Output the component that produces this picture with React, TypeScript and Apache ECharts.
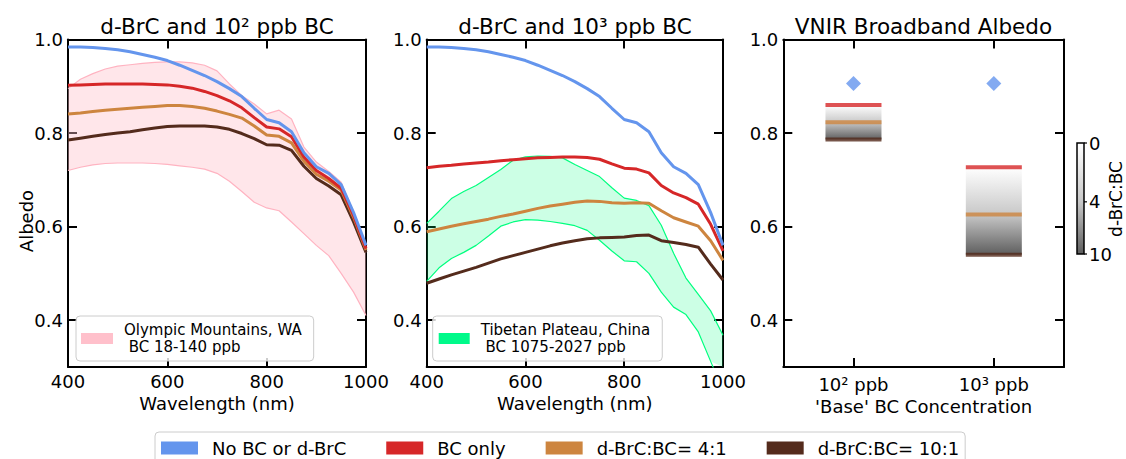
import React, { useEffect, useRef } from 'react';
import * as echarts from 'echarts';

// ---------------- data ----------------
const wavelengths = [400, 425, 450, 475, 500, 525, 550, 575, 600, 625, 650, 675, 700, 725, 750, 775, 800, 825, 850, 875, 900, 925, 950, 975, 1000];

// no BC / no d-BrC (same in both spectral panels)
const noBC = [0.984, 0.984, 0.983, 0.981, 0.978, 0.974, 0.968, 0.962, 0.955, 0.945, 0.934, 0.923, 0.910, 0.895, 0.878, 0.853, 0.829, 0.822, 0.803, 0.758, 0.728, 0.714, 0.690, 0.630, 0.560];

// 10^2 ppb BC panel
const bcOnly100 = [0.902, 0.903, 0.904, 0.905, 0.905, 0.905, 0.905, 0.904, 0.903, 0.900, 0.896, 0.889, 0.880, 0.869, 0.854, 0.833, 0.813, 0.809, 0.792, 0.749, 0.720, 0.703, 0.682, 0.624, 0.553];
const brc4Bc100 = [0.841, 0.843, 0.846, 0.849, 0.851, 0.853, 0.855, 0.857, 0.859, 0.859, 0.857, 0.853, 0.847, 0.840, 0.832, 0.815, 0.796, 0.793, 0.779, 0.740, 0.712, 0.697, 0.678, 0.620, 0.550];
const brc10Bc100 = [0.785, 0.789, 0.793, 0.797, 0.800, 0.803, 0.807, 0.811, 0.814, 0.815, 0.815, 0.815, 0.813, 0.808, 0.799, 0.788, 0.775, 0.774, 0.763, 0.729, 0.703, 0.687, 0.668, 0.610, 0.545];
const olympicLower = [0.720, 0.727, 0.732, 0.735, 0.736, 0.736, 0.736, 0.735, 0.733, 0.730, 0.727, 0.723, 0.714, 0.697, 0.675, 0.652, 0.640, 0.634, 0.610, 0.585, 0.560, 0.538, 0.500, 0.460, 0.410];
const olympicUpper = [0.895, 0.915, 0.927, 0.937, 0.943, 0.946, 0.949, 0.951, 0.952, 0.952, 0.950, 0.945, 0.933, 0.905, 0.880, 0.862, 0.841, 0.849, 0.830, 0.770, 0.738, 0.718, 0.695, 0.630, 0.545];

// 10^3 ppb BC panel
const bcOnly1000 = [0.726, 0.729, 0.731, 0.734, 0.736, 0.738, 0.741, 0.743, 0.745, 0.747, 0.748, 0.749, 0.749, 0.748, 0.744, 0.734, 0.725, 0.723, 0.715, 0.688, 0.672, 0.662, 0.648, 0.605, 0.548];
const brc4Bc1000 = [0.589, 0.595, 0.601, 0.606, 0.611, 0.616, 0.622, 0.627, 0.633, 0.639, 0.644, 0.648, 0.652, 0.655, 0.654, 0.651, 0.650, 0.651, 0.650, 0.634, 0.619, 0.610, 0.601, 0.570, 0.528];
const brc10Bc1000 = [0.479, 0.488, 0.497, 0.505, 0.513, 0.522, 0.531, 0.538, 0.545, 0.552, 0.559, 0.565, 0.570, 0.574, 0.576, 0.577, 0.578, 0.581, 0.582, 0.570, 0.566, 0.562, 0.556, 0.520, 0.486];
const tibetLower = [0.483, 0.512, 0.532, 0.545, 0.560, 0.580, 0.601, 0.610, 0.615, 0.614, 0.611, 0.607, 0.602, 0.592, 0.571, 0.548, 0.527, 0.525, 0.500, 0.460, 0.428, 0.412, 0.375, 0.312, 0.250];
const tibetUpper = [0.607, 0.633, 0.660, 0.675, 0.688, 0.705, 0.722, 0.742, 0.749, 0.751, 0.750, 0.747, 0.733, 0.720, 0.707, 0.683, 0.661, 0.656, 0.645, 0.603, 0.543, 0.490, 0.455, 0.420, 0.368];

// broadband panel
const baseBcCategories = ['10² ppb', '10³ ppb'];
const broadNoBC = [0.906, 0.906];
const broadBcOnly = [0.860, 0.727];
const broadBrc4 = [0.823, 0.626];
const broadBrc10 = [0.786, 0.540];

// ticks
const yTickValues = [0.4, 0.6, 0.8, 1.0];
const colorbarTickLabels = ['0', '4', '10'];
const colorbarTickFractions = [0, 0.53, 1];

const seriesNames = ['No BC or d-BrC', 'BC only', 'd-BrC:BC= 4:1', 'd-BrC:BC= 10:1'];
const olympicName = 'Olympic Mountains, WA\n BC 18-140 ppb';
const tibetName = 'Tibetan Plateau, China\n BC 1075-2027 ppb';

// ---------------- styles ----------------
const FONT = 'DejaVu Sans';
const C_BLUE = '#6495ED';
const C_RED = '#d62728';
const C_ORANGE = '#CD853F';
const C_BROWN = '#542b1c';
const C_PINK = '#ffc0cb';
const C_PINK_EDGE = '#ffb3c1';
const C_GREEN = '#00ff7f';
const GREY_TOP = '#ffffff';
const GREY_MID = '#c8c8c8';
const GREY_BOTTOM = '#5e5e5e';

const pairs = (ys: number[]) => wavelengths.map((w, i) => [w, ys[i]]);

export default function App() {
  const ref = useRef<HTMLDivElement>(null);

  useEffect(() => {
    if (!ref.current) return;
    const chart = echarts.init(ref.current, undefined, { renderer: 'svg' });

    const grids = [
      { left: 68, top: 39.5, width: 298, height: 327.5 },
      { left: 426.7, top: 39.5, width: 296.3, height: 327.5 },
      { left: 783.3, top: 39.5, width: 280.7, height: 327.5 },
    ];

    const axisLine = { show: true, onZero: false, lineStyle: { color: '#000', width: 2 } };
    const tick = { show: true, inside: true, length: 9, lineStyle: { color: '#000', width: 2 } };
    const label = { color: '#000', fontSize: 18, fontFamily: FONT, margin: 5 };
    const nameStyle = { color: '#000', fontSize: 18, fontFamily: FONT };

    const wlAxes = (g: number) => [
      {
        type: 'value', gridIndex: g, min: 400, max: 1000, interval: 200,
        axisLine, axisTick: tick, axisLabel: { ...label, formatter: (v: number) => String(v) }, splitLine: { show: false },
        name: 'Wavelength (nm)', nameLocation: 'middle', nameGap: 24, nameTextStyle: nameStyle,
      },
      {
        type: 'value', gridIndex: g, position: 'top', min: 400, max: 1000, interval: 200,
        axisLine, axisTick: tick, axisLabel: { show: false }, splitLine: { show: false },
      },
    ];
    const albedoAxes = (g: number) => [
      {
        type: 'value', gridIndex: g, min: 0.3, max: 1.0,
        axisLine, axisTick: { ...tick, customValues: yTickValues },
        axisLabel: { ...label, customValues: yTickValues, formatter: (v: number) => v.toFixed(1) },
        splitLine: { show: false },
      },
      {
        type: 'value', gridIndex: g, position: 'right', min: 0.3, max: 1.0,
        axisLine, axisTick: { ...tick, customValues: yTickValues },
        axisLabel: { show: false }, splitLine: { show: false },
      },
    ];

    const xAxis: any[] = [
      ...wlAxes(0),
      ...wlAxes(1),
      {
        type: 'category', gridIndex: 2, data: baseBcCategories,
        axisLine, axisTick: { ...tick, alignWithLabel: true }, axisLabel: { ...label, margin: 8 },
        splitLine: { show: false },
        name: "'Base' BC Concentration", nameLocation: 'middle', nameGap: 27, nameTextStyle: nameStyle,
      },
      {
        type: 'category', gridIndex: 2, position: 'top', data: baseBcCategories,
        axisLine, axisTick: { ...tick, alignWithLabel: true }, axisLabel: { show: false }, splitLine: { show: false },
      },
    ];
    const yAxis: any[] = [...albedoAxes(0), ...albedoAxes(1), ...albedoAxes(2)];

    const line = (name: string, ys: number[], color: string, ax: number, width = 3, z = 3) => ({
      type: 'line', name, data: pairs(ys), xAxisIndex: ax, yAxisIndex: ax,
      symbol: 'none', silent: true, z,
      lineStyle: { color, width }, itemStyle: { color },
    });

    const bandFill = (name: string, lower: number[], upper: number[], fill: string, legendColor: string, ax: number) => ({
      type: 'custom', name, xAxisIndex: ax, yAxisIndex: ax, silent: true, z: 1,
      itemStyle: { color: legendColor },
      data: wavelengths.map((w, i) => [w, lower[i], upper[i]]),
      encode: { x: 0, y: [1, 2] },
      renderItem: (params: any, api: any) => {
        if (params.dataIndex !== 0) return null;
        const cs = params.coordSys;
        const top = cs.y, bottom = cs.y + cs.height;
        const clamp = (p: number[]) => [p[0], Math.min(Math.max(p[1], top), bottom)];
        const up = wavelengths.map((w, i) => clamp(api.coord([w, upper[i]])));
        const lo = wavelengths.map((w, i) => clamp(api.coord([w, lower[i]]))).reverse();
        return { type: 'polygon', shape: { points: up.concat(lo) }, style: { fill, stroke: 'none' } };
      },
    });

    const boxGradient = (i: number) => {
      const f = (broadBcOnly[i] - broadBrc4[i]) / (broadBcOnly[i] - broadBrc10[i]);
      return new echarts.graphic.LinearGradient(0, 0, 0, 1, [
        { offset: 0, color: GREY_TOP },
        { offset: f, color: GREY_MID },
        { offset: 1, color: GREY_BOTTOM },
      ]);
    };

    const hLine = (name: string, ys: number[], color: string, z: number) => ({
      type: 'scatter', name, data: ys, xAxisIndex: 4, yAxisIndex: 4,
      symbol: 'rect', symbolSize: [56, 4], silent: true, z,
      itemStyle: { color },
    });

    const series: any[] = [
      bandFill(olympicName, olympicLower, olympicUpper, 'rgba(255,192,203,0.4)', C_PINK, 0),
      line('olympic_lower', olympicLower, C_PINK_EDGE, 0, 1.2, 2),
      line('olympic_upper', olympicUpper, C_PINK_EDGE, 0, 1.2, 2),
      line(seriesNames[3], brc10Bc100, C_BROWN, 0),
      line(seriesNames[2], brc4Bc100, C_ORANGE, 0),
      line(seriesNames[1], bcOnly100, C_RED, 0),
      line(seriesNames[0], noBC, C_BLUE, 0),

      bandFill(tibetName, tibetLower, tibetUpper, 'rgba(0,255,127,0.2)', '#00fa8a', 2),
      line('tibet_lower', tibetLower, C_GREEN, 2, 1.2, 2),
      line('tibet_upper', tibetUpper, C_GREEN, 2, 1.2, 2),
      line(seriesNames[3], brc10Bc1000, C_BROWN, 2),
      line(seriesNames[2], brc4Bc1000, C_ORANGE, 2),
      line(seriesNames[1], bcOnly1000, C_RED, 2),
      line(seriesNames[0], noBC, C_BLUE, 2),

      {
        type: 'bar', name: 'box_base', data: broadBrc10, xAxisIndex: 4, yAxisIndex: 4,
        stack: 'box', barWidth: 56, silent: true, itemStyle: { color: 'rgba(0,0,0,0)' }, z: 1,
      },
      {
        type: 'bar', name: 'box_range', xAxisIndex: 4, yAxisIndex: 4, stack: 'box', barWidth: 56, silent: true, z: 1,
        data: broadBcOnly.map((v, i) => ({ value: v - broadBrc10[i], itemStyle: { color: boxGradient(i) } })),
      },
      hLine(seriesNames[1], broadBcOnly, C_RED, 3),
      hLine(seriesNames[2], broadBrc4, C_ORANGE, 3),
      hLine(seriesNames[3], broadBrc10, C_BROWN, 3),
      {
        type: 'scatter', name: seriesNames[0], data: broadNoBC, xAxisIndex: 4, yAxisIndex: 4,
        symbol: 'diamond', symbolSize: [15, 15], silent: true, z: 3, itemStyle: { color: C_BLUE },
      },
    ];

    const legendBox = {
      borderColor: '#cccccc', borderWidth: 1, borderRadius: 4, backgroundColor: 'rgba(255,255,255,0.8)',
      selectedMode: false, orient: 'horizontal',
    };

    const legend: any[] = [
      {
        ...legendBox, left: 155, top: 432, padding: [7, 6, 7, 6], itemWidth: 37, itemHeight: 13, itemGap: 40,
        textStyle: { fontFamily: FONT, fontSize: 18, color: '#000', padding: [0, 0, 0, 9] },
        data: seriesNames.map((n, i) => ({ name: n, icon: 'rect', itemStyle: { color: [C_BLUE, C_RED, C_ORANGE, C_BROWN][i] } })),
      },
      {
        ...legendBox, left: 76, top: 316, padding: [6, 12, 6, 5], itemWidth: 32, itemHeight: 11,
        textStyle: { fontFamily: FONT, fontSize: 15, lineHeight: 16.5, color: '#000', padding: [0, 0, 0, 6] },
        data: [{ name: olympicName, icon: 'rect', itemStyle: { color: C_PINK } }],
      },
      {
        ...legendBox, left: 432.7, top: 316, padding: [6, 12, 6, 6], itemWidth: 31, itemHeight: 11,
        textStyle: { fontFamily: FONT, fontSize: 15, lineHeight: 16.5, color: '#000', padding: [0, 0, 0, 6] },
        data: [{ name: tibetName, icon: 'rect', itemStyle: { color: '#00fa8a' } }],
      },
    ];

    // colorbar geometry
    const cbX = 1077, cbY = 143, cbW = 7, cbH = 111;
    const titleStyle = (text: string) => ({ text, fontSize: 21.5, fontFamily: FONT, fill: '#000', align: 'center', verticalAlign: 'middle' });

    const graphic: any[] = [
      { type: 'text', x: 217, y: 26, style: titleStyle('d-BrC and 10² ppb BC') },
      { type: 'text', x: 575, y: 26, style: titleStyle('d-BrC and 10³ ppb BC') },
      { type: 'text', x: 923.5, y: 26, style: titleStyle('VNIR Broadband Albedo') },
      {
        type: 'text', x: 26, y: 221, rotation: Math.PI / 2,
        style: { text: 'Albedo', fontSize: 18, fontFamily: FONT, fill: '#000', align: 'center', verticalAlign: 'middle' },
      },
      {
        type: 'rect', shape: { x: cbX, y: cbY, width: cbW, height: cbH },
        style: {
          fill: new echarts.graphic.LinearGradient(0, 0, 0, 1, [
            { offset: 0, color: GREY_TOP }, { offset: 0.53, color: GREY_MID }, { offset: 1, color: GREY_BOTTOM },
          ]),
          stroke: '#000', lineWidth: 1.5,
        },
      },
      ...colorbarTickLabels.flatMap((t, i) => {
        const y = cbY + colorbarTickFractions[i] * cbH;
        return [
          { type: 'line', shape: { x1: cbX + cbW, y1: y, x2: cbX + cbW + 3, y2: y }, style: { stroke: '#000', lineWidth: 1.2 } },
          { type: 'text', x: cbX + cbW + 5, y, style: { text: t, fontSize: 18, fontFamily: FONT, fill: '#000', align: 'left', verticalAlign: 'middle' } },
        ];
      }),
      {
        type: 'text', x: 1116, y: 199, rotation: Math.PI / 2,
        style: { text: 'd-BrC:BC', fontSize: 17, fontFamily: FONT, fill: '#000', align: 'center', verticalAlign: 'middle' },
      },
    ];

    chart.setOption({
      animation: false,
      backgroundColor: '#fff',
      textStyle: { fontFamily: FONT },
      grid: grids,
      xAxis,
      yAxis,
      series,
      legend,
      graphic,
    });

    return () => chart.dispose();
  }, []);

  return <div ref={ref} style={{ position: 'absolute', left: 0, top: 0, width: 1126, height: 459 }} />;
}
